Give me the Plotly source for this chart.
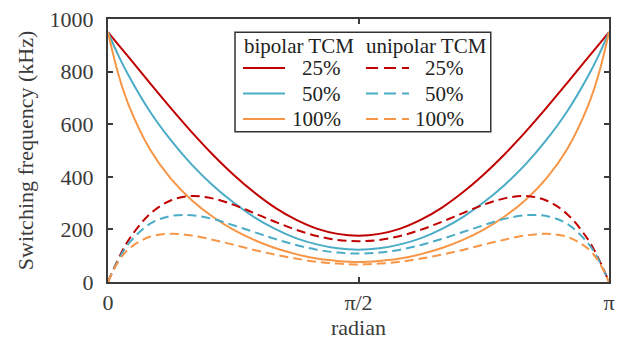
import numpy as np
import plotly.graph_objects as go

# Sample angles in units of pi/48 (finer near both ends)
theta_steps = [0, 1, 2, 4, 6, 8, 10, 12, 14, 16, 18, 20, 22, 24,
               26, 28, 30, 32, 34, 36, 38, 40, 42, 44, 46, 47, 48]

# Switching frequency (kHz), bipolar TCM
bipolar_25 = [950, 902, 854, 757, 662, 571, 486, 409, 341, 283, 237, 203, 183, 176,
              183, 203, 237, 283, 341, 409, 486, 571, 662, 757, 854, 902, 950]
bipolar_50 = [950, 861, 783, 649, 540, 447, 369, 303, 247, 202, 167, 143, 128, 123,
              128, 143, 167, 202, 247, 303, 369, 447, 540, 649, 783, 861, 950]
bipolar_100 = [950, 789, 671, 506, 394, 312, 249, 199, 160, 129, 106, 89, 80, 76,
               80, 89, 106, 129, 160, 199, 249, 312, 394, 506, 671, 789, 950]

# Switching frequency (kHz), unipolar TCM
unipolar_25 = [0, 89, 161, 258, 310, 327, 318, 294, 262, 229, 199, 175, 160, 155,
               160, 175, 199, 229, 262, 294, 318, 327, 310, 258, 161, 89, 0]
unipolar_50 = [0, 85, 147, 221, 251, 254, 240, 216, 190, 164, 141, 123, 112, 108,
               112, 123, 141, 164, 190, 216, 240, 254, 251, 221, 147, 85, 0]
unipolar_100 = [0, 78, 126, 172, 183, 177, 161, 142, 122, 104, 89, 77, 70, 67,
                70, 77, 89, 104, 122, 142, 161, 177, 183, 172, 126, 78, 0]

load_labels = ["25%", "50%", "100%"]
colors = ["#C00000", "#4BACC6", "#F79646"]

x_tick_vals = [0, np.pi / 2, np.pi]
x_tick_text = ["0", "π/2", "π"]
y_tick_vals = [0, 200, 400, 600, 800, 1000]

theta = np.array(theta_steps) * np.pi / 48

FONT = "Liberation Serif"
TEXT = "#3a3a3a"
DASH = "9px,5px"
FS = 22
LEG_FS = 21

fig = go.Figure()
for ys, c, name in zip([bipolar_25, bipolar_50, bipolar_100], colors, load_labels):
    fig.add_trace(go.Scatter(x=theta, y=ys, mode="lines", name="bipolar " + name,
                             line=dict(color=c, width=2, shape="spline"),
                             showlegend=False))
for ys, c, name in zip([unipolar_25, unipolar_50, unipolar_100], colors, load_labels):
    fig.add_trace(go.Scatter(x=theta, y=ys, mode="lines", name="unipolar " + name,
                             line=dict(color=c, width=2, shape="spline", dash=DASH),
                             showlegend=False))

# Two-column legend box (paper coordinates of the plot area)
shapes = [dict(type="rect", xref="paper", yref="paper",
               x0=0.2535, x1=0.764, y0=0.571, y1=0.950,
               line=dict(color="#333333", width=1.5), fillcolor="white", layer="above")]
annotations = [
    dict(x=0.2675, y=0.896, text="bipolar TCM", xanchor="left"),
    dict(x=0.510, y=0.896, text="unipolar TCM", xanchor="left"),
]
row_y = [0.8135, 0.7164, 0.6193]
for c, name, ry in zip(colors, load_labels, row_y):
    shapes.append(dict(type="line", xref="paper", yref="paper",
                       x0=0.2695, x1=0.3533, y0=ry, y1=ry,
                       line=dict(color=c, width=2), layer="above"))
    shapes.append(dict(type="line", xref="paper", yref="paper",
                       x0=0.515, x1=0.6008, y0=ry, y1=ry,
                       line=dict(color=c, width=2, dash="12px,6px"), layer="above"))
    annotations.append(dict(x=0.469, y=ry, text=name, xanchor="right"))
    annotations.append(dict(x=0.7146, y=ry, text=name, xanchor="right"))
for a in annotations:
    a.update(xref="paper", yref="paper", yanchor="middle", showarrow=False,
             font=dict(family=FONT, size=LEG_FS, color="#222222"))

axis_common = dict(showline=True, linecolor="#3a3a3a", linewidth=2, mirror="ticks",
                   ticks="inside", ticklen=5, tickwidth=1.5, tickcolor="#3a3a3a",
                   showgrid=False, zeroline=False, ticklabeloverflow="allow",
                   tickfont=dict(family=FONT, size=FS, color=TEXT))

fig.update_layout(
    width=626, height=344,
    margin=dict(l=108, r=17, t=7, b=62),
    paper_bgcolor="white", plot_bgcolor="white",
    font=dict(family=FONT, size=FS, color=TEXT),
    xaxis=dict(range=[0, np.pi], tickvals=x_tick_vals, ticktext=x_tick_text,
               title=dict(text="radian", standoff=4,
                          font=dict(family=FONT, size=FS, color=TEXT)),
               **axis_common),
    yaxis=dict(range=[0, 1000], tickvals=y_tick_vals, ticklabelstandoff=8,
               title=dict(text="Switching frequency (kHz)", standoff=10,
                          font=dict(family=FONT, size=FS, color=TEXT)),
               **axis_common),
    shapes=shapes,
    annotations=annotations,
    showlegend=False,
)

fig.write_html("out.html")
